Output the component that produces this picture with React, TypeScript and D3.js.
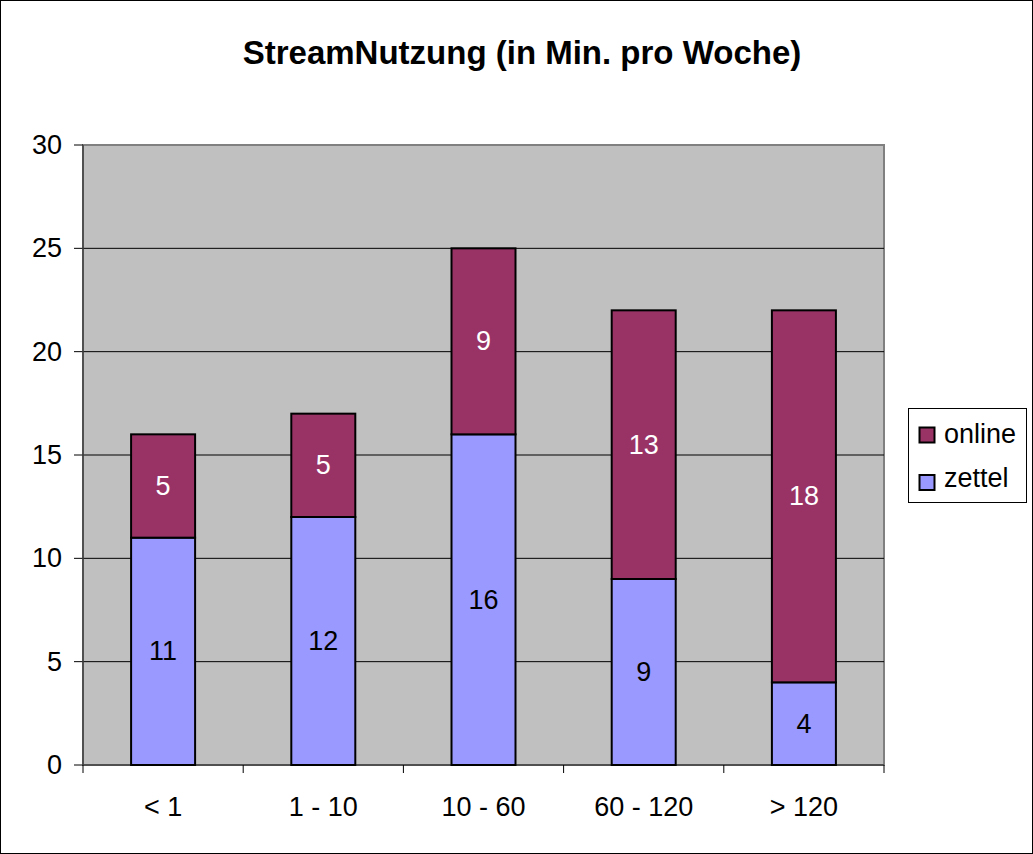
import React from "react";
import * as d3 from "d3";

const categories = ["< 1", "1 - 10", "10 - 60", "60 - 120", "> 120"];
const zettel = [11, 12, 16, 9, 4];
const online = [5, 5, 9, 13, 18];
const yTicks = [0, 5, 10, 15, 20, 25, 30];
const seriesNames = ["online", "zettel"];
const seriesColors = ["#993366", "#9999FF"];

export default function App() {
  const W = 1033, H = 854;
  const left = 83, right = 884, top = 145, bottom = 765;
  const xb = d3.scaleBand().domain(categories).range([left, right]);
  const y = d3.scaleLinear().domain([0, 30]).range([bottom, top]);
  const font = "Arial, 'Liberation Sans', sans-serif";
  const bw = 64;
  const fs = 27;
  return (
    <svg width={W} height={H} style={{ position: "absolute", left: 0, top: 0 }} fontFamily={font}>
      <rect x={0.5} y={0.5} width={W - 1} height={H - 1} fill="#fff" stroke="#000" />
      <text x={522} y={64} textAnchor="middle" fontSize={33} fontWeight="bold">StreamNutzung (in Min. pro Woche)</text>
      <rect x={left} y={top} width={right - left} height={bottom - top} fill="#C0C0C0" stroke="#808080" strokeWidth={2} />
      {yTicks.map((t) => (
        <g key={t}>
          {t > 0 && t < 30 && <line x1={left} x2={right} y1={y(t)} y2={y(t)} stroke="#000" />}
          <line x1={74} x2={left} y1={y(t)} y2={y(t)} stroke="#000" />
          <text x={62} y={y(t) + 9} textAnchor="end" fontSize={fs}>{t}</text>
        </g>
      ))}
      <line x1={left} x2={left} y1={top} y2={bottom} stroke="#404040" strokeWidth={1.5} />
      <line x1={left} x2={right} y1={bottom} y2={bottom} stroke="#404040" strokeWidth={1.5} />
      {categories.concat(["end"]).map((c, i) => {
        const xx = left + i * xb.bandwidth();
        return <line key={c} x1={xx} x2={xx} y1={bottom} y2={773} stroke="#000" />;
      })}
      {categories.map((c, i) => {
        const cx = (xb(c) as number) + xb.bandwidth() / 2;
        const x0 = cx - bw / 2;
        const z = zettel[i], o = online[i];
        return (
          <g key={c}>
            <rect x={x0} y={y(z)} width={bw} height={y(0) - y(z)} fill={seriesColors[1]} stroke="#000" strokeWidth={2} />
            <rect x={x0} y={y(z + o)} width={bw} height={y(z) - y(z + o)} fill={seriesColors[0]} stroke="#000" strokeWidth={2} />
            <text x={cx} y={(y(0) + y(z)) / 2 + 9} textAnchor="middle" fontSize={fs} fill="#000">{z}</text>
            <text x={cx} y={(y(z) + y(z + o)) / 2 + 9} textAnchor="middle" fontSize={fs} fill="#fff">{o}</text>
            <text x={cx} y={816} textAnchor="middle" fontSize={fs}>{c}</text>
          </g>
        );
      })}
      <rect x={908.5} y={408.5} width={118} height={94} fill="#fff" stroke="#000" />
      {seriesNames.map((s, i) => (
        <g key={s}>
          <rect x={919.5} y={427.5 + i * 47.5} width={15} height={15} fill={seriesColors[i]} stroke="#000" strokeWidth={2} />
          <text x={944} y={443 + i * 44} fontSize={fs}>{s}</text>
        </g>
      ))}
    </svg>
  );
}
